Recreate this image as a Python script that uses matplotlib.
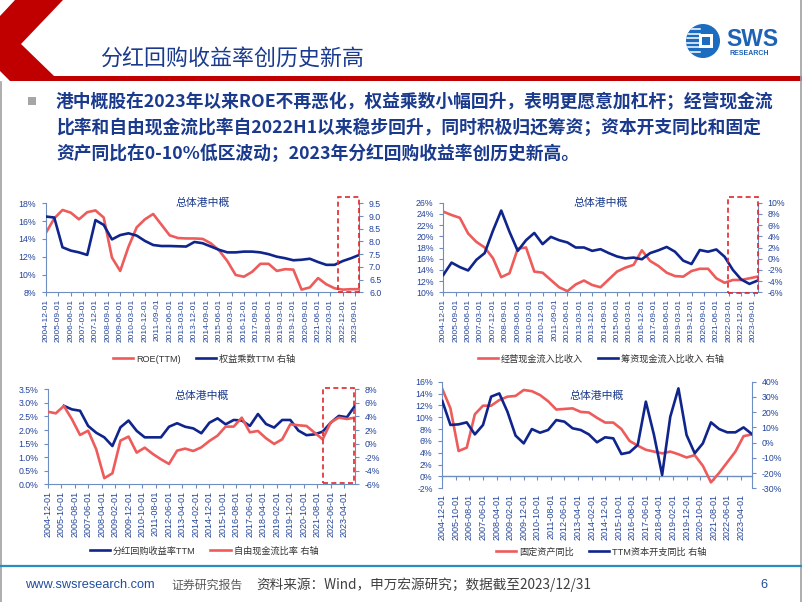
import numpy as np
import pandas as pd
import matplotlib
matplotlib.use("Agg")
import matplotlib.pyplot as plt
from matplotlib.patches import Rectangle, Polygon, Circle
from matplotlib.ticker import FuncFormatter
import matplotlib.transforms as mtransforms

plt.rcParams['font.family'] = ['Liberation Sans', 'Noto Sans CJK SC', 'DejaVu Sans']

# ---------------- data ----------------
dates = pd.date_range("2004-12-01", "2023-12-01", freq="6MS")          # semiannual points
ticks_9m = pd.date_range("2004-12-01", "2023-09-01", freq="9MS")       # top charts' labels
ticks_10m = pd.date_range("2004-12-01", "2023-04-01", freq="10MS")     # bottom charts' labels

roe_ttm = [14.7, 16.3, 17.25, 16.95, 16.2, 17.0, 17.2, 16.4, 11.9, 10.4,
           13.1, 15.3, 16.2, 16.8, 15.6, 14.4, 14.1, 14.05, 14.05, 14.0,
           13.5, 12.7, 11.5, 9.95, 9.75, 10.3, 11.2, 11.2, 10.4, 10.6,
           10.55, 8.3, 8.55, 9.6, 8.9, 8.45, 8.3, 8.35, 8.35]
equity_mult = [8.98, 8.94, 7.77, 7.64, 7.57, 7.47, 8.84, 8.65, 8.08, 8.25,
               8.32, 8.23, 8.02, 7.86, 7.82, 7.82, 7.81, 7.80, 7.98, 7.93,
               7.80, 7.67, 7.57, 7.57, 7.60, 7.60, 7.57, 7.50, 7.40, 7.34,
               7.26, 7.28, 7.32, 7.19, 7.08, 7.08, 7.23, 7.34, 7.47]

ocf_ratio = [24.4, 23.8, 23.3, 20.5, 19.0, 18.0, 16.1, 12.7, 13.4, 17.8,
             18.0, 13.7, 13.5, 12.2, 10.9, 10.2, 11.4, 12.1, 11.3, 10.9,
             12.3, 13.7, 14.4, 14.9, 17.5, 15.6, 14.7, 13.5, 12.9, 12.8,
             13.8, 14.2, 14.2, 12.5, 11.7, 12.2, 12.2, 12.5, 12.8]
fin_ratio = [-2.9, -0.7, -1.5, -2.1, -0.2, 1.0, 5.0, 8.6, 4.8, 1.4,
             3.3, 4.6, 2.6, 3.9, 3.3, 2.9, 2.0, 2.0, 1.4, 1.7,
             1.0, 0.4, 0.05, 0.2, -0.1, 1.0, 1.5, 2.1, 1.25, -0.35,
             -0.95, 1.55, 1.25, 1.65, 0.35, -2.0, -3.7, -4.5, -3.9]

div_yield = [np.nan, np.nan, 2.89, 2.76, 2.71, 2.15, 1.90, 1.73, 1.41, 2.10,
             2.35, 1.97, 1.73, 1.73, 1.73, 2.12, 2.25, 2.12, 2.06, 1.88,
             2.27, 2.43, 2.21, 2.37, 2.35, 2.15, 2.59, 2.22, 2.09, 2.37,
             2.37, 1.98, 1.81, 1.84, 1.94, 2.27, 2.52, 2.47, 2.89]
fcf_ratio = [4.7, 4.46, 5.54, 3.58, 1.27, 1.9, -0.84, -5.1, -4.38, 0.44,
             1.03, -1.33, -0.6, -1.53, -2.31, -3.0, -1.04, -0.74, -1.09, -0.55,
             0.39, 1.17, 2.5, 2.5, 3.82, 1.66, 1.86, 0.78, -0.05, 0.63,
             2.84, 2.7, 2.6, 1.61, 0.63, 3.14, 3.82, 3.63, 3.82]

fixed_asset_yoy = [14.76, 11.5, 4.3, 4.86, 10.5, 11.95, 11.95, 12.9, 13.47, 13.6,
                   14.6, 14.4, 13.75, 12.7, 11.3, 11.4, 11.5, 10.9, 10.8, 9.9,
                   9.1, 9.1, 8.0, 6.0, 5.2, 4.5, 4.2, 3.9, 4.2, 3.75,
                   3.2, 3.6, 1.8, -1.0, 0.6, 2.4, 4.2, 6.8, 7.1]
capex_yoy = [27.3, 11.6, 12.0, 13.3, 5.4, 11.6, 30.2, 32.3, 20.3, 4.6,
             -0.5, 8.9, 6.5, 8.3, 14.8, 13.75, 9.4, 8.3, 5.4, 0.2,
             3.5, 2.8, -7.5, -6.4, -1.6, 26.9, 5.0, -21.25, 17.0, 35.6,
             5.0, -7.0, -0.5, 13.3, 8.9, 6.75, 6.75, 10.0, 5.7]

# ---------------- style ----------------
W, H = 802, 602
RED = '#EE5B5B'
NAVY = '#10258C'
TICKC = '#22449A'
SPINE = '#6E8EC2'
TITLEC = '#1A3A8E'
LW = 1.9
CJK = ['Noto Sans CJK SC', 'DejaVu Sans']


def mnum(d):
    return (d.year - 2004) * 12 + d.month - 12


months = np.array([mnum(d) for d in dates])
XMAX = months[-1]

fig = plt.figure(figsize=(W / 100, H / 100), dpi=100)
bg = fig.add_axes([0, 0, 1, 1])
bg.set_xlim(0, W)
bg.set_ylim(H, 0)
bg.axis('off')


def make_chart(px, lvals, lcolor, llabel, rvals, rcolor, rlabel,
               lticks, lfmt, rticks, rfmt, tick_dates, title_y, legend_xy,
               hl=None, zero_axis=False, xfs=6.0):
    l, t, r, b = px
    ax = fig.add_axes([l / W, 1 - b / H, (r - l) / W, (b - t) / H])
    ax2 = ax.twinx()
    ln1, = ax.plot(months, lvals, color=lcolor, lw=LW, solid_joinstyle='round')
    ln2, = ax2.plot(months, rvals, color=rcolor, lw=LW, solid_joinstyle='round')
    ax.set_xlim(0, XMAX)
    ax.set_ylim(lticks[0], lticks[-1])
    ax.set_yticks(lticks)
    ax.yaxis.set_major_formatter(FuncFormatter(lambda v, p: lfmt(v)))
    ax2.set_ylim(rticks[0], rticks[-1])
    ax2.set_yticks(rticks)
    ax2.yaxis.set_major_formatter(FuncFormatter(lambda v, p: rfmt(v)))
    for a in (ax, ax2):
        a.tick_params(axis='y', direction='out', length=3, width=0.8, color=SPINE,
                      labelcolor=TICKC, labelsize=6.3, pad=4)
        a.spines['top'].set_visible(False)
    ax.spines['right'].set_visible(False)
    ax.spines['left'].set_color(SPINE)
    ax2.spines['left'].set_visible(False)
    ax2.spines['bottom'].set_visible(False)
    ax2.spines['right'].set_color(SPINE)

    tpos = [mnum(d) for d in tick_dates]
    tlab = [d.strftime('%Y-%m-%d') for d in tick_dates]
    ax.set_xticks(tpos)
    ax.set_xticklabels(tlab, rotation=90, fontsize=xfs, color=TICKC)
    if zero_axis:
        ax.spines['bottom'].set_visible(False)
        ax.tick_params(axis='x', length=0, pad=4)
        loc = (0 - lticks[0]) / (lticks[-1] - lticks[0])
        sec = ax.secondary_xaxis(loc)
        sec.set_xticks(tpos)
        sec.tick_params(axis='x', direction='out', length=3, width=0.8, color=SPINE,
                        labelbottom=False)
        sec.spines['bottom'].set_color(SPINE)
        sec.spines['bottom'].set_linewidth(1.0)
    else:
        ax.spines['bottom'].set_color(SPINE)
        ax.tick_params(axis='x', direction='out', length=3, width=0.8, color=SPINE, pad=1.5)

    ax2.text(0.5, title_y, '总体港中概', transform=ax2.transAxes, ha='center', va='center',
             fontsize=7.8, color=TITLEC, family=CJK)

    ax2.legend([ln1, ln2], [llabel, rlabel], loc='center',
               bbox_to_anchor=(legend_xy[0] / W, 1 - legend_xy[1] / H),
               bbox_transform=fig.transFigure, ncol=2, frameon=False,
               fontsize=6.6, handlelength=2.2, handletextpad=0.35,
               columnspacing=1.6, labelcolor='#333333')
    if hl is not None:
        x0, x1, y0, y1 = hl
        trans = mtransforms.blended_transform_factory(ax2.transData, ax2.transAxes)
        ax2.add_patch(Rectangle((x0, y0), x1 - x0, y1 - y0, transform=trans, fill=False,
                                ec='#E3262B', lw=1.2, ls=(0, (3, 2)), clip_on=False, zorder=6))
    return ax, ax2


pct0 = lambda v: f"{v:.0f}%"
pct1 = lambda v: f"{v:.1f}%"
dec1 = lambda v: f"{v:.1f}"

make_chart((46, 203.3, 359.3, 292.3), roe_ttm, RED, 'ROE(TTM)',
           equity_mult, NAVY, '权益乘数TTM 右轴',
           np.arange(8, 18.1, 2), pct0, np.arange(6.0, 9.51, 0.5), dec1,
           ticks_9m, 1.0, (204, 359), hl=(212.7, XMAX, 0.007, 1.067))

make_chart((443.3, 202.7, 757.7, 292.3), ocf_ratio, RED, '经营现金流入比收入',
           fin_ratio, NAVY, '筹资现金流入比收入 右轴',
           np.arange(10, 26.1, 2), pct0, np.arange(-6, 10.1, 2), pct0,
           ticks_9m, 1.0, (601, 359), hl=(206.7, XMAX, -0.004, 1.067))

make_chart((47.7, 389.3, 355, 484.3), div_yield, NAVY, '分红回购收益率TTM',
           fcf_ratio, RED, '自由现金流比率 右轴',
           np.arange(0, 3.51, 0.5), pct1, np.arange(-6, 8.1, 2), pct0,
           ticks_10m, 0.933, (204, 551), hl=(204.5, 227.5, 0.0105, 1.017), xfs=6.5)

make_chart((442.3, 381.7, 751.7, 488.3), fixed_asset_yoy, RED, '固定资产同比',
           capex_yoy, NAVY, 'TTM资本开支同比 右轴',
           np.arange(-2, 16.1, 2), pct0, np.arange(-30, 40.1, 10), pct0,
           ticks_10m, 0.869, (601, 552), zero_axis=True, xfs=6.5)

# ---------------- slide decorations ----------------
bg.add_patch(Polygon([(15, 0), (63, 0), (21, 44), (54, 76), (802, 76), (802, 81),
                      (10, 81), (0, 71), (0, 16)], closed=True, fc='#C00000', ec='none'))
bg.plot([1, 1], [82, 602], color='#A0A0A0', lw=1.2)
bg.plot([800.5, 800.5], [0, 602], color='#A0A0A0', lw=1.2)

bg.text(100, 60, '分红回购收益率创历史新高', fontsize=15.8, color=TITLEC,
        va='center', ha='left', family=CJK)

body = ['港中概股在2023年以来ROE不再恶化，权益乘数小幅回升，表明更愿意加杠杆；经营现金流',
        '比率和自由现金流比率自2022H1以来稳步回升，同时积极归还筹资；资本开支同比和固定',
        '资产同比在0-10%低区波动；2023年分红回购收益率创历史新高。']
for i, line in enumerate(body):
    bg.text(56, 102 + i * 25.7, line, fontsize=12.8, weight='bold', color=TITLEC,
            va='center', ha='left', family=CJK)
bg.add_patch(Rectangle((28, 97), 8, 8, fc='#A6A6A6', ec='none'))

# logo
circ = Circle((703, 41), 17, fc='#1C6DC0', ec='none')
bg.add_patch(circ)
for yy in (29, 33.5, 38, 42.5, 47, 51.5):
    ln, = bg.plot([684, 700], [yy, yy], color='white', lw=1.1)
    ln.set_clip_path(circ)
bg.add_patch(Rectangle((698.5, 34), 14, 14, fc='white', ec='none'))
bg.add_patch(Rectangle((701.5, 37), 8, 8, fc='#1C6DC0', ec='none'))
bg.text(726, 46.5, 'SWS', fontsize=16.5, weight='bold', color='#1E62B5',
        va='baseline', ha='left', family='Liberation Sans')
bg.text(729, 55, 'RESEARCH', fontsize=5, weight='bold', color='#1E62B5',
        va='baseline', ha='left', family='Liberation Sans')

# footer
bg.plot([0, 802], [566, 566], color='#2A8CC6', lw=1.6)
bg.text(25, 585, 'www.swsresearch.com', fontsize=9.2, color='#1F4E9E', va='center',
        family='Liberation Sans')
bg.text(171, 585, '证券研究报告', fontsize=8.6, color='#595959', va='center', family=CJK)
bg.text(256, 585, '资料来源：Wind，申万宏源研究；数据截至2023/12/31', fontsize=9.8,
        color='#404040', va='center', family=CJK)
bg.text(760, 585, '6', fontsize=9.2, color='#1F4E9E', va='center', family='Liberation Sans')

fig.savefig('out.png', dpi=100)
